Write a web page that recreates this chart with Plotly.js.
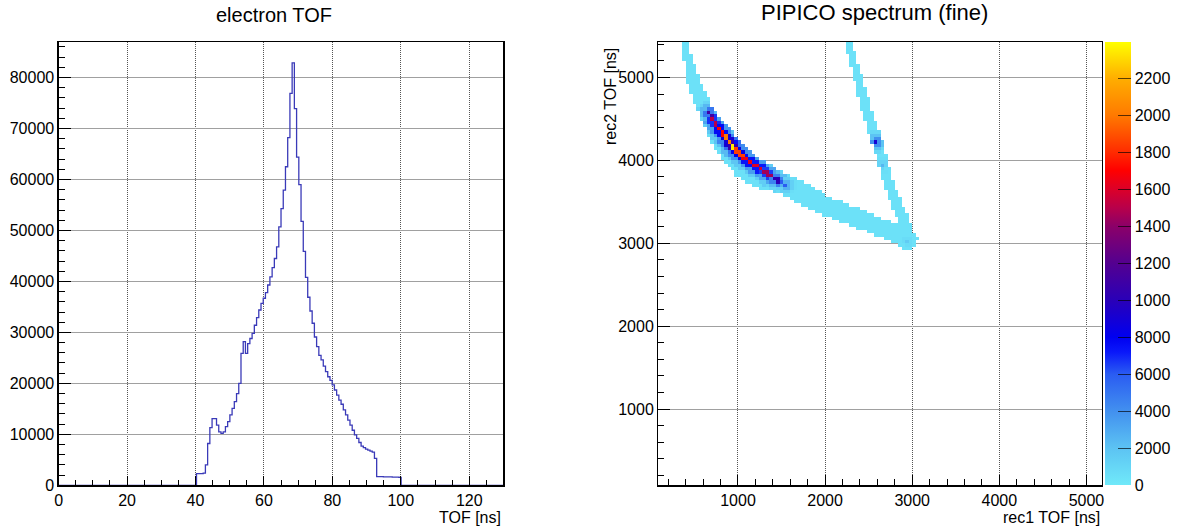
<!DOCTYPE html>
<html><head><meta charset="utf-8">
<script src="https://cdn.plot.ly/plotly-3.0.1.min.js"></script>
<style>html,body{margin:0;padding:0;background:#fff}#chart{width:1184px;height:527px}</style>
</head><body><div id="chart"></div>
<script>
// ---------------- electron TOF histogram ----------------
const tofBinWidth = 0.65;      // ns per bin
const tofNBins = 200;          // 0 .. 130 ns
const tofFirstBin = 62;        // first non-empty bin index
const tofCounts = [
  2300, 2300, 2300, 2400, 4000, 8200, 11300, 13100, 13100, 11800,
  10500, 10200, 10500, 11500, 12500, 13800, 15100, 16400, 18000, 20000,
  25900, 28200, 25900, 27800, 28800, 29800, 31400, 32900, 34400, 35700,
  36700, 37800, 39300, 40900, 42700, 44500, 46800, 50700, 54300, 57900,
  62500, 68200, 76900, 82900, 73900, 64400, 59000, 51800, 45900, 40800,
  36900, 34200, 31800, 29100, 27200, 25500, 24600, 23400, 22300, 21300,
  20600, 19700, 18700, 17700, 16700, 15900, 14800, 13800, 12800, 11800,
  10800, 9900, 9200, 8400, 7700, 7400, 7100, 6900, 6700, 6500,
  5300, 1700, 1700, 1700, 1650, 1650, 1650, 1650, 1600, 1600, 1600, 1550
];

// ---------------- PIPICO map (fine) ----------------
const mapBin = 40;                 // ns
const mapX0 = 80, mapNX = 128;
const mapY0 = 80, mapNY = 136;

// outline of the lower (curved) coincidence band
const bandA_rec1 = [345, 350, 402, 458, 535, 610, 705, 818, 990, 1215, 1455, 2000, 2420, 2830, 2890, 2965, 3095, 2995, 2845, 2420, 2005, 1855, 1630, 1478, 1250, 1042, 872, 718, 622, 545, 418, 412];
const bandA_rec2 = [5480, 5427, 5000, 4812, 4598, 4409, 4197, 4007, 3800, 3665, 3605, 3325, 3163, 2995, 2915, 2915, 3066, 3140, 3215, 3404, 3580, 3685, 3810, 3886, 4025, 4215, 4425, 4612, 4825, 5010, 5427, 5480];
// outline of the steep coincidence band
const bandB_rec1 = [2215, 2227, 2327, 2410, 2525, 2598, 2659, 2695, 2831, 2880, 2898, 2960, 3023, 2966, 2825, 2774, 2726, 2653, 2527, 2430, 2309, 2315];
const bandB_rec2 = [5480, 5427, 5000, 4650, 4248, 4007, 3766, 3646, 3284, 3082, 2960, 2930, 3082, 3284, 3646, 3766, 4007, 4248, 4650, 5000, 5427, 5480];
const bandBase = 400;              // counts in the faint band

// intense ridge of band A
const ridge_rec1 = [664, 722, 798, 874, 931, 1008, 1103, 1218, 1332, 1447, 1543];
const ridge_rec2 = [4578, 4469, 4349, 4249, 4176, 4088, 4007, 3926, 3847, 3766, 3706];
const ridge_peak = [11000, 15000, 17000, 20000, 23500, 18500, 16500, 16000, 14500, 10000, 6000];
const ridgeProfile = [1, 0.45, 0.22, 0.1];

// isolated spots
const spot_rec1 = [990, 2593, 2950, 2660];
const spot_rec2 = [4235, 4228, 3030, 3950];
const spot_peak = [7500, 9000, 1500, 2500];

const zMax = 23950;
const cbTickVals = [0, 2000, 4000, 6000, 8000, 10000, 12000, 14000, 16000, 18000, 20000, 22000];
const cbTickText = ['0', '2000', '4000', '6000', '8000', '1000', '1200', '1400', '1600', '1800', '2000', '2200'];

// ---------------- build traces ----------------
const tofX = [], tofY = [];
for (let i = 0; i <= tofNBins; i++) {
  const k = Math.min(i, tofNBins - 1);
  const j = k - tofFirstBin;
  tofX.push(i * tofBinWidth);
  tofY.push(i === tofNBins ? 0 : (j >= 0 && j < tofCounts.length ? tofCounts[j] : 0));
}

function inPoly(px, py, xs, ys) {
  let c = false;
  for (let i = 0, j = xs.length - 1; i < xs.length; j = i++) {
    if (((ys[i] > py) !== (ys[j] > py)) &&
        (px < (xs[j] - xs[i]) * (py - ys[i]) / (ys[j] - ys[i]) + xs[i])) c = !c;
  }
  return c;
}
function segDist(px, py, ax, ay, bx, by) {
  const dx = bx - ax, dy = by - ay;
  let t = ((px - ax) * dx + (py - ay) * dy) / (dx * dx + dy * dy);
  t = Math.max(0, Math.min(1, t));
  const qx = ax + t * dx, qy = ay + t * dy;
  return Math.hypot(px - qx, py - qy);
}

const mapX = [], mapY = [], mapZ = [];
for (let i = 0; i < mapNX; i++) mapX.push(mapX0 + (i + 0.5) * mapBin);
for (let j = 0; j < mapNY; j++) mapY.push(mapY0 + (j + 0.5) * mapBin);
for (let j = 0; j < mapNY; j++) {
  const row = [];
  const cy = mapY[j];
  for (let i = 0; i < mapNX; i++) {
    const cx = mapX[i];
    const inside = inPoly(cx, cy, bandA_rec1, bandA_rec2) || inPoly(cx, cy, bandB_rec1, bandB_rec2);
    if (!inside) { row.push(null); continue; }
    let v = bandBase;
    let dmin = Infinity;
    for (let s = 0; s < ridge_rec1.length - 1; s++) {
      dmin = Math.min(dmin, segDist(cx, cy, ridge_rec1[s], ridge_rec2[s], ridge_rec1[s + 1], ridge_rec2[s + 1]));
    }
    const ri = Math.round(dmin / mapBin);
    if (ri < ridgeProfile.length) {
      let best = 0, bd = Infinity;
      for (let s = 0; s < ridge_rec1.length; s++) {
        const d = Math.hypot(cx - ridge_rec1[s], cy - ridge_rec2[s]);
        if (d < bd) { bd = d; best = s; }
      }
      v = Math.max(v, ridge_peak[best] * ridgeProfile[ri]);
    }
    for (let s = 0; s < spot_rec1.length; s++) {
      const si = Math.round(Math.hypot(cx - spot_rec1[s], cy - spot_rec2[s]) / mapBin);
      if (si < ridgeProfile.length) v = Math.max(v, spot_peak[s] * ridgeProfile[si]);
    }
    row.push(v);
  }
  mapZ.push(row);
}

const colorscale = [
  [0.000, '#70e9f9'], [0.0835, '#5cc3f3'], [0.167, '#4290ef'], [0.250, '#2a5cf2'],
  [0.300, '#0a18fa'], [0.334, '#0000f0'], [0.4175, '#2a00b8'], [0.501, '#540090'],
  [0.585, '#8c0068'], [0.626, '#b8004a'], [0.668, '#dc0028'], [0.710, '#ff0000'],
  [0.750, '#ff2a00'], [0.835, '#ff7a00'], [0.918, '#ffae00'], [1.000, '#ffff00']
];

const FONT = 'Liberation Sans, Arial, Helvetica, sans-serif';

const traces = [
  {
    type: 'scatter', mode: 'lines', x: tofX, y: tofY, line: {shape: 'hv', color: '#3a3ab8', width: 1.3},
    xaxis: 'x', yaxis: 'y', hoverinfo: 'skip', showlegend: false
  },
  {
    type: 'heatmap', x: mapX, y: mapY, z: mapZ, xaxis: 'x2', yaxis: 'y2',
    colorscale: colorscale, zmin: 0, zmax: zMax, zauto: false, zsmooth: false, hoverongaps: false,
    colorbar: {
      x: 1107 / 1184, xanchor: 'left', xpad: 0, ypad: 0,
      y: 1 - 263.8 / 527, yanchor: 'middle',
      len: 443, lenmode: 'pixels', thickness: 26, thicknessmode: 'pixels',
      outlinewidth: 0, ticks: 'inside', ticklen: 13, tickwidth: 1, tickcolor: 'rgba(0,0,0,0.65)',
      tickmode: 'array', tickvals: cbTickVals, ticktext: cbTickText,
      tickfont: {family: FONT, size: 16, color: '#000'}
    }
  }
];

const yDom = [1 - 485.3 / 527, 1 - 42 / 527];
const common = {
  showline: true, linecolor: '#000', linewidth: 1.2, mirror: true,
  ticks: 'inside', tickcolor: '#000', tickwidth: 1,
  tickfont: {family: FONT, size: 16, color: '#000'},
  zeroline: false, automargin: false, fixedrange: true
};

const layout = {
  width: 1184, height: 527, autosize: false,
  margin: {l: 0, r: 0, t: 0, b: 0},
  paper_bgcolor: '#fff', plot_bgcolor: '#fff', showlegend: false,
  xaxis: Object.assign({}, common, {
    domain: [58.7 / 1184, 504.3 / 1184], range: [0, 130], tick0: 0, dtick: 20, ticklen: 9,
    minor: {dtick: 5, ticklen: 5, ticks: 'inside', tickcolor: '#000', showgrid: false},
    showgrid: true, gridcolor: '#555', griddash: '1px,1px', gridwidth: 1, anchor: 'y'
  }),
  yaxis: Object.assign({}, common, {
    domain: yDom, range: [0, 86980], tick0: 0, dtick: 10000, ticklen: 12, tickformat: 'd',
    minor: {dtick: 2000, ticklen: 6, ticks: 'inside', tickcolor: '#000', showgrid: false},
    showgrid: true, gridcolor: '#a0a0a0', gridwidth: 1, anchor: 'x'
  }),
  xaxis2: Object.assign({}, common, {
    domain: [659.3 / 1184, 1104 / 1184], range: [84, 5180], tick0: 0, dtick: 1000, ticklen: 10, tickformat: 'd',
    minor: {dtick: 200, ticklen: 6, ticks: 'inside', tickcolor: '#000', showgrid: false},
    showgrid: true, gridcolor: '#555', griddash: '1px,1px', gridwidth: 1, anchor: 'y2'
  }),
  yaxis2: Object.assign({}, common, {
    domain: yDom, range: [82, 5427], tick0: 0, dtick: 1000, ticklen: 12, tickformat: 'd',
    minor: {dtick: 200, ticklen: 6, ticks: 'inside', tickcolor: '#000', showgrid: false},
    showgrid: true, gridcolor: '#a0a0a0', gridwidth: 1, anchor: 'x2'
  }),
  annotations: [
    {text: 'electron TOF', xref: 'paper', yref: 'paper', x: 274 / 1184, y: 1 - 15 / 527,
     xanchor: 'center', yanchor: 'middle', showarrow: false, font: {family: FONT, size: 20, color: '#000'}},
    {text: 'PIPICO spectrum (fine)', xref: 'paper', yref: 'paper', x: 876 / 1184, y: 1 - 13 / 527,
     xanchor: 'center', yanchor: 'middle', showarrow: false, font: {family: FONT, size: 22, color: '#000'}},
    {text: 'TOF [ns]', xref: 'paper', yref: 'paper', x: 504 / 1184, y: 1 - 517 / 527,
     xanchor: 'right', yanchor: 'middle', showarrow: false, font: {family: FONT, size: 16, color: '#000'}},
    {text: 'rec1 TOF [ns]', xref: 'paper', yref: 'paper', x: 1104 / 1184, y: 1 - 517 / 527,
     xanchor: 'right', yanchor: 'middle', showarrow: false, font: {family: FONT, size: 16, color: '#000'}},
    {text: 'rec2 TOF [ns]', xref: 'paper', yref: 'paper', x: 612 / 1184, y: 1 - 96 / 527, textangle: -90,
     xanchor: 'center', yanchor: 'middle', showarrow: false, font: {family: FONT, size: 16, color: '#000'}}
  ]
};

Plotly.newPlot('chart', traces, layout, {displayModeBar: false, staticPlot: true});
</script>
</body></html>
